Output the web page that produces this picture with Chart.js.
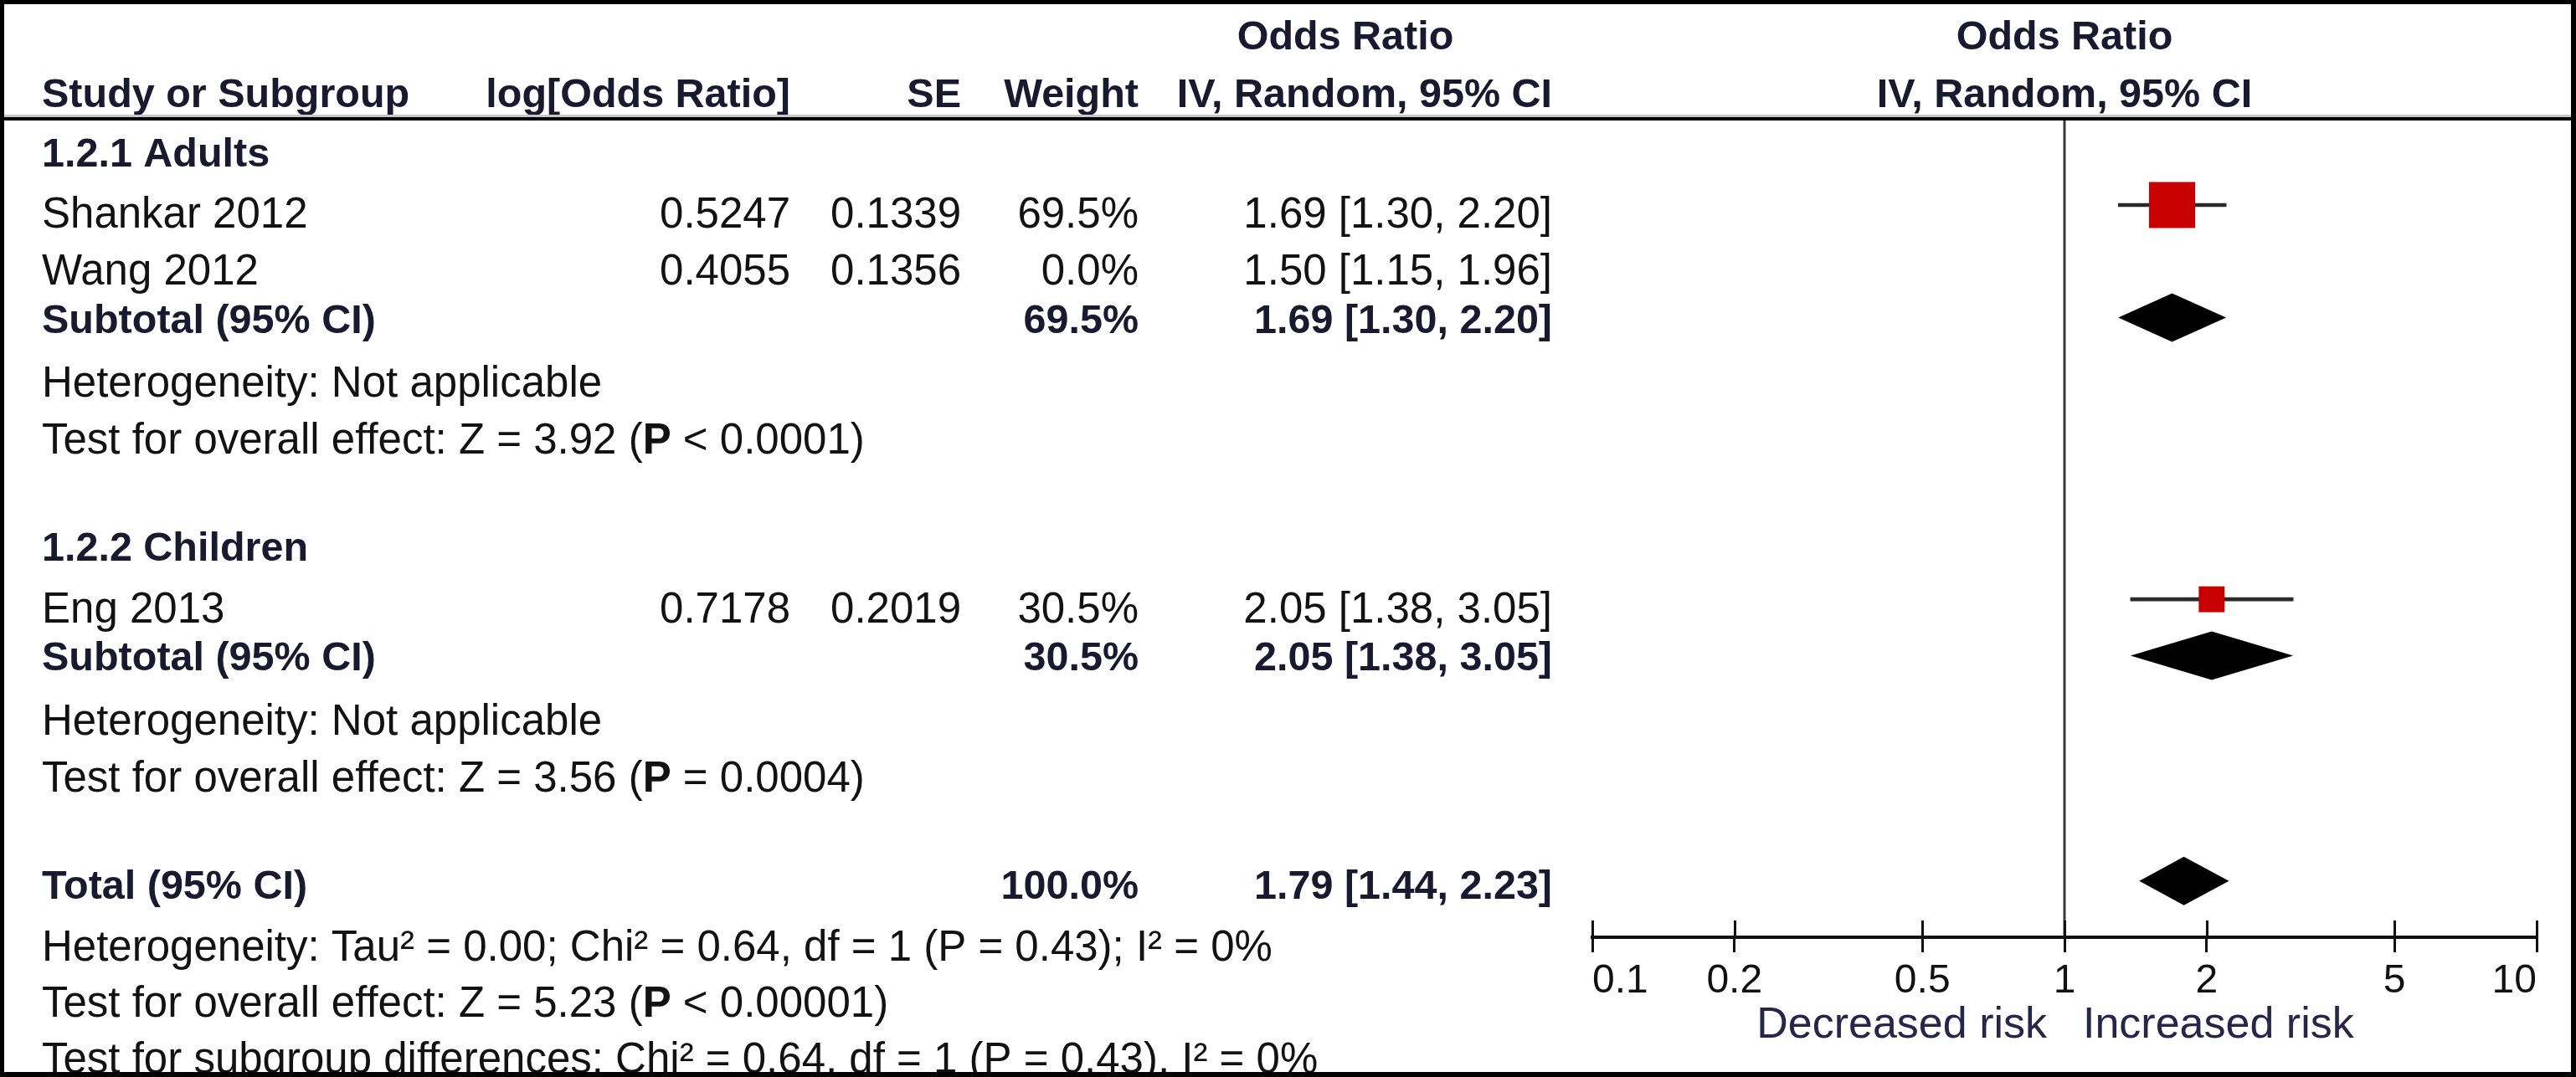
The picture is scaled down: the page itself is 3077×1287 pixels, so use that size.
<!DOCTYPE html>
<html>
<head>
<meta charset="utf-8">
<title>Odds Ratio forest plot</title>
<script src="https://cdn.jsdelivr.net/npm/chart.js@4.4.1/dist/chart.umd.min.js"></script>
<style>
  html, body { margin: 0; padding: 0; background: #fff; }
  canvas { display: block; }
</style>
</head>
<body>
<canvas id="forestChart" width="3077" height="1287"></canvas>
<script>
// values
const groupNames = ["1.2.1 Adults", "1.2.2 Children"];
const studyNames = ["Shankar 2012", "Wang 2012", "Eng 2013"];
const studyGroup = [0, 0, 1];
const logOddsRatio = ["0.5247", "0.4055", "0.7178"];
const standardErrors = ["0.1339", "0.1356", "0.2019"];
const studyWeights = [69.5, 0.0, 30.5];
const studyOR = [1.69, 1.50, 2.05];
const studyLow = [1.30, 1.15, 1.38];
const studyHigh = [2.20, 1.96, 3.05];

const subtotalWeights = [69.5, 30.5];
const subtotalOR = [1.69, 2.05];
const subtotalLow = [1.30, 1.38];
const subtotalHigh = [2.20, 3.05];
const subtotalHeterogeneity = ["Heterogeneity: Not applicable", "Heterogeneity: Not applicable"];
const subtotalEffect = ["Test for overall effect: Z = 3.92 (P < 0.0001)", "Test for overall effect: Z = 3.56 (P = 0.0004)"];

const totalWeight = 100.0;
const totalOR = 1.79;
const totalLow = 1.44;
const totalHigh = 2.23;
const totalNotes = [
    "Heterogeneity: Tau\u00b2 = 0.00; Chi\u00b2 = 0.64, df = 1 (P = 0.43); I\u00b2 = 0%",
    "Test for overall effect: Z = 5.23 (P < 0.00001)",
    "Test for subgroup differences: Chi\u00b2 = 0.64, df = 1 (P = 0.43), I\u00b2 = 0%"
];

const topHeader = "Odds Ratio";
const columnHeaders = ["Study or Subgroup", "log[Odds Ratio]", "SE", "Weight", "IV, Random, 95% CI"];
const axisTicks = [0.1, 0.2, 0.5, 1, 2, 5, 10];
const axisTickLabels = ["0.1", "0.2", "0.5", "1", "2", "5", "10"];
const favourLabels = ["Decreased risk", "Increased risk"];

// build the table rows top to bottom, row index = position in the list
const rows = [{ kind: "head" }, { kind: "head" }];
groupNames.forEach((g, gi) => {
    rows.push({ kind: "group", label: g });
    studyNames.forEach((s, si) => {
        if (studyGroup[si] === gi) rows.push({ kind: "study", i: si });
    });
    rows.push({ kind: "subtotal", i: gi });
    rows.push({ kind: "note", label: subtotalHeterogeneity[gi] });
    rows.push({ kind: "note", label: subtotalEffect[gi] });
    rows.push({ kind: "blank" });
});
rows.push({ kind: "total" });
totalNotes.forEach((n) => rows.push({ kind: "note", label: n }));

const ciData = [];
const squareData = [];
const diamonds = [];
rows.forEach((r, idx) => {
    if (r.kind === "study" && studyWeights[r.i] > 0) {
        ciData.push({ x: [studyLow[r.i], studyHigh[r.i]], y: idx });
        squareData.push({ x: studyOR[r.i], y: idx, w: studyWeights[r.i] });
    }
    if (r.kind === "subtotal") diamonds.push({ est: subtotalOR[r.i], lo: subtotalLow[r.i], hi: subtotalHigh[r.i], y: idx });
    if (r.kind === "total") diamonds.push({ est: totalOR, lo: totalLow, hi: totalHigh, y: idx });
});

const FONT = '"Liberation Sans", Arial, sans-serif';
const REG = '51px ' + FONT;
const BOLD = 'bold 48.5px ' + FONT;
const REG_COLOR = "#121212";
const BOLD_COLOR = "#191930";

const col = { name: 50, log: 944, se: 1148, weight: 1360, ci: 1854, orHead: 1607 };

function ciText(est, lo, hi) {
    return est.toFixed(2) + " [" + lo.toFixed(2) + ", " + hi.toFixed(2) + "]";
}

function put(ctx, text, x, y, align, bold) {
    ctx.font = bold ? BOLD : REG;
    ctx.fillStyle = bold ? BOLD_COLOR : REG_COLOR;
    ctx.textAlign = align;
    ctx.fillText(text, x, y);
}

// note lines: the P of "Test for overall effect" is bold
function putNote(ctx, text, x, y) {
    ctx.textAlign = "left";
    if (text.startsWith("Test for overall effect")) {
        const k = text.indexOf("(P") + 1;
        const parts = [[text.slice(0, k), false], ["P", true], [text.slice(k + 1), false]];
        parts.forEach(([t, b]) => {
            ctx.font = b ? 'bold 51px ' + FONT : REG;
            ctx.fillStyle = REG_COLOR;
            ctx.fillText(t, x, y);
            x += ctx.measureText(t).width;
        });
    } else {
        put(ctx, text, x, y, "left", false);
    }
}

const tablePlugin = {
    id: "tablePlugin",
    beforeDraw(chart) {
        const ctx = chart.ctx;
        ctx.save();
        ctx.fillStyle = "#fff";
        ctx.fillRect(0, 0, chart.width, chart.height);
        ctx.restore();
    },
    beforeDatasetsDraw(chart) {
        const { ctx, chartArea, scales } = chart;
        const x1 = Math.round(scales.x.getPixelForValue(1));
        ctx.save();
        ctx.strokeStyle = "#3a3a3a";
        ctx.lineWidth = 3;
        ctx.beginPath();
        ctx.moveTo(x1, chartArea.top);
        ctx.lineTo(x1, chartArea.bottom);
        ctx.stroke();
        ctx.restore();
    },
    afterDatasetsDraw(chart) {
        const { ctx, scales } = chart;
        ctx.save();
        ctx.fillStyle = "#000";
        diamonds.forEach((d) => {
            const y = scales.y.getPixelForValue(d.y);
            const half = 29;
            ctx.beginPath();
            ctx.moveTo(scales.x.getPixelForValue(d.lo), y);
            ctx.lineTo(scales.x.getPixelForValue(d.est), y - half);
            ctx.lineTo(scales.x.getPixelForValue(d.hi), y);
            ctx.lineTo(scales.x.getPixelForValue(d.est), y + half);
            ctx.closePath();
            ctx.fill();
        });
        ctx.restore();
    },
    afterDraw(chart) {
        const { ctx, chartArea, scales } = chart;
        const W = chart.width, H = chart.height;
        const mid = (chartArea.left + chartArea.right) / 2;
        ctx.save();
        ctx.textBaseline = "alphabetic";

        rows.forEach((r, idx) => {
            const py = scales.y.getPixelForValue(idx);
            const yb = py + 18, yr = py + 27.5;
            if (r.kind === "head" && idx === 0) {
                put(ctx, topHeader, col.orHead, yb - 2, "center", true);
                put(ctx, topHeader, mid, yb - 2, "center", true);
            } else if (r.kind === "head") {
                put(ctx, columnHeaders[0], col.name, yb, "left", true);
                put(ctx, columnHeaders[1], col.log, yb, "right", true);
                put(ctx, columnHeaders[2], col.se, yb, "right", true);
                put(ctx, columnHeaders[3], col.weight, yb, "right", true);
                put(ctx, columnHeaders[4], col.ci, yb, "right", true);
                put(ctx, columnHeaders[4], mid, yb, "center", true);
            } else if (r.kind === "group") {
                put(ctx, r.label, col.name, yb + 3, "left", true);
            } else if (r.kind === "study") {
                const i = r.i;
                put(ctx, studyNames[i], col.name, yr, "left", false);
                put(ctx, logOddsRatio[i], col.log, yr, "right", false);
                put(ctx, standardErrors[i], col.se, yr, "right", false);
                put(ctx, studyWeights[i].toFixed(1) + "%", col.weight, yr, "right", false);
                put(ctx, ciText(studyOR[i], studyLow[i], studyHigh[i]), col.ci, yr, "right", false);
            } else if (r.kind === "subtotal") {
                const i = r.i;
                put(ctx, "Subtotal (95% CI)", col.name, yb, "left", true);
                put(ctx, subtotalWeights[i].toFixed(1) + "%", col.weight, yb, "right", true);
                put(ctx, ciText(subtotalOR[i], subtotalLow[i], subtotalHigh[i]), col.ci, yb, "right", true);
            } else if (r.kind === "total") {
                put(ctx, "Total (95% CI)", col.name, yb + 3, "left", true);
                put(ctx, totalWeight.toFixed(1) + "%", col.weight, yb + 3, "right", true);
                put(ctx, ciText(totalOR, totalLow, totalHigh), col.ci, yb + 3, "right", true);
            } else if (r.kind === "note") {
                putNote(ctx, r.label, col.name, yr);
            }
        });

        // upper half of the axis tick marks
        ctx.strokeStyle = "#111";
        ctx.lineWidth = 3;
        axisTicks.forEach((v) => {
            const px = Math.round(scales.x.getPixelForValue(v)) + 0.5;
            ctx.beginPath();
            ctx.moveTo(px, chartArea.bottom - 20);
            ctx.lineTo(px, chartArea.bottom);
            ctx.stroke();
        });

        // favour labels either side of the null line
        const x1 = scales.x.getPixelForValue(1);
        ctx.font = '52px ' + FONT;
        ctx.fillStyle = "#26264a";
        ctx.textAlign = "right";
        ctx.fillText(favourLabels[0], x1 - 21, chartArea.bottom + 120);
        ctx.textAlign = "left";
        ctx.fillText(favourLabels[1], x1 + 22, chartArea.bottom + 120);

        // header rule and outer frame
        ctx.fillStyle = "#c8c8c8";
        ctx.fillRect(5, 137, W - 11, 3);
        ctx.fillStyle = "#000";
        ctx.fillRect(5, 140, W - 11, 4);
        ctx.fillRect(0, 0, W, 5);
        ctx.fillRect(0, H - 6, W, 6);
        ctx.fillRect(0, 0, 5, H);
        ctx.fillRect(W - 6, 0, 6, H);
        ctx.restore();
    }
};

const ctx = document.getElementById("forestChart").getContext("2d");
new Chart(ctx, {
    type: "scatter",
    data: {
        datasets: [
            {
                type: "scatter",
                label: "Study estimate",
                data: squareData,
                pointStyle: "rect",
                pointRadius: (c) => (12 + 0.62 * c.raw.w) / Math.SQRT2,
                backgroundColor: "#c80000",
                borderWidth: 0,
                order: 0,
            },
            {
                type: "bar",
                label: "95% CI",
                indexAxis: "y",
                data: ciData,
                backgroundColor: "#2a2a2a",
                barThickness: 4,
                borderWidth: 0,
                order: 1,
            },
        ],
    },
    options: {
        responsive: false,
        animation: false,
        events: [],
        devicePixelRatio: 1,
        layout: { padding: { left: 1902, right: 47, top: 144, bottom: 47 } },
        plugins: { legend: { display: false }, tooltip: { enabled: false } },
        scales: {
            x: {
                type: "logarithmic",
                position: "bottom",
                min: 0.1,
                max: 10,
                offset: false,
                afterBuildTicks: (axis) => {
                    axis.ticks = axisTicks.map((v) => ({ value: v }));
                },
                afterFit: (axis) => {
                    axis.height = 120;
                },
                ticks: {
                    autoSkip: false,
                    maxRotation: 0,
                    align: "inner",
                    padding: 6,
                    color: "#111",
                    font: { family: FONT, size: 48 },
                    callback: (v, i) => axisTickLabels[i],
                },
                grid: { offset: false, drawOnChartArea: false, drawTicks: true, tickLength: 18, color: "#111", lineWidth: 3 },
                border: { display: true, color: "#111", width: 4 },
            },
            y: {
                type: "linear",
                reverse: true,
                min: 1.5,
                max: 16,
                offset: false,
                grid: { offset: false },
                display: false,
            },
        },
    },
    plugins: [tablePlugin],
});
</script>
</body>
</html>
